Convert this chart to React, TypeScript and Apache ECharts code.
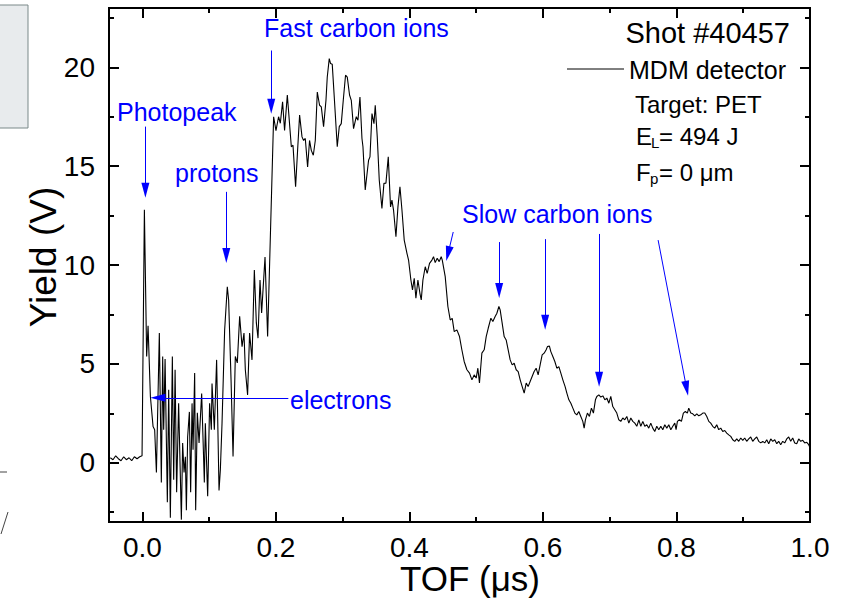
import { useEffect, useRef } from "react";
import * as echarts from "echarts";

const FONT = "'Liberation Sans', Arial, Helvetica, sans-serif";
const BLUE = "#0000ff";

// Axis ranges and tick positions
const xRange = [-0.05, 1.0];
const yRange = [-3, 23];
const xMajorTicks = [0, 0.2, 0.4, 0.6, 0.8, 1.0];
const xMinorTicks = [0.1, 0.3, 0.5, 0.7, 0.9];
const yMajorTicks = [0, 5, 10, 15, 20];
const yMinorTicks = [-2.5, 2.5, 7.5, 12.5, 17.5, 22.5];

// MDM detector trace, TOF (µs) vs yield (V)
const preTrigger = [
  [-0.048, 0.25], [-0.044, 0.15], [-0.04, 0.35], [-0.036, 0.2], [-0.032, 0.1],
  [-0.028, 0.3], [-0.024, 0.15], [-0.02, 0.25], [-0.016, 0.1], [-0.012, 0.3],
  [-0.008, 0.2], [-0.004, 0.3], [-0.0005, 0.35],
];

const photopeakAndElectrons = [
  [0.003, 12.8], [0.0064, 5.37], [0.0085, 6.92], [0.012, 3.35], [0.016, 1.83],
  [0.0184, 1.67], [0.021, -0.5], [0.0254, 6.56], [0.0284, -1.0], [0.0304, 5.37],
  [0.0319, 1.67], [0.034, 5.25], [0.0374, -2.0], [0.0394, 3.69], [0.0419, -2.78],
  [0.0449, 5.37], [0.0469, -0.86], [0.049, 4.7], [0.0513, -1.5], [0.0543, 3.0],
  [0.0584, -2.88], [0.0603, 1.0], [0.0624, -0.5], [0.0644, 0.3], [0.0659, -2.4],
  [0.0678, 1.3], [0.0704, 2.57], [0.0723, -1.5], [0.0744, 3.0], [0.0759, 0.66],
  [0.0783, 4.54], [0.0798, -2.4], [0.0823, 2.52], [0.0849, 1.0], [0.0888, 3.5],
  [0.0928, -1.0], [0.0943, 2.0], [0.0978, -1.7], [0.1007, 3.0], [0.1033, 1.67],
  [0.1043, 4.0], [0.1078, 1.67], [0.1112, 5.2], [0.1148, -1.4], [0.1168, -0.35],
  [0.1193, 2.0], [0.1232, 6.7], [0.1272, 8.9], [0.1292, 8.23], [0.1328, 4.2],
  [0.1358, 0.32], [0.1392, 5.37], [0.1422, 5.05], [0.1457, 7.4], [0.1493, 5.87],
  [0.1522, 6.56], [0.1542, 4.7], [0.1576, 3.43], [0.1606, 6.56], [0.1642, 5.2],
  [0.1677, 9.75], [0.1707, 7.07], [0.1732, 6.3], [0.1762, 9.24], [0.1786, 7.57],
  [0.1837, 10.4], [0.1876, 6.38],
];

const fastCarbon = [
  [0.1966, 17.5], [0.2001, 16.8], [0.204, 17.5], [0.2066, 17.17], [0.21, 18.25],
  [0.213, 16.8], [0.2171, 18.6], [0.2231, 15.98], [0.2256, 16.06], [0.2295, 13.96],
  [0.2325, 15.8], [0.2355, 17.58], [0.2391, 16.48], [0.2415, 16.3], [0.244, 16.4],
  [0.2475, 14.96], [0.2504, 16.3], [0.253, 15.8], [0.256, 15.55], [0.259, 16.3],
  [0.262, 18.75], [0.2654, 18.08], [0.268, 18.0], [0.2714, 17.0], [0.275, 18.33],
  [0.2769, 19.5], [0.2799, 20.44], [0.2819, 20.19], [0.2844, 20.15], [0.2874, 18.5],
  [0.2919, 15.98], [0.2949, 17.0], [0.2979, 17.15], [0.3009, 18.33], [0.3043, 19.6],
  [0.3069, 19.5], [0.3103, 18.6], [0.3129, 18.33], [0.3163, 16.9], [0.3204, 17.5],
  [0.3229, 17.32], [0.3259, 18.5], [0.3289, 16.4], [0.3304, 15.98], [0.3338, 13.8],
  [0.3388, 15.3], [0.3409, 15.47], [0.3439, 17.66], [0.3469, 17.15], [0.3488, 18.08],
  [0.3518, 16.48], [0.3548, 14.3], [0.3588, 12.86], [0.3618, 14.13], [0.3648, 14.14],
  [0.3683, 15.47], [0.3717, 12.94], [0.3738, 13.28], [0.3762, 12.78], [0.3798, 11.43],
  [0.3828, 12.94], [0.3858, 13.96], [0.3888, 12.78], [0.3922, 11.26], [0.3963, 10.59],
  [0.3987, 10.25], [0.4022, 9.24], [0.4046, 8.74], [0.4072, 9.33], [0.4097, 8.32],
  [0.4127, 9.24], [0.4157, 8.57], [0.4177, 8.23], [0.4202, 9.24], [0.4237, 9.91],
  [0.4266, 9.58], [0.4301, 10.08], [0.4337, 10.25], [0.4361, 10.42], [0.4386, 10.12],
  [0.4416, 10.34], [0.4446, 10.17], [0.4476, 10.42], [0.4492, 10.25], [0.4536, 9.41],
  [0.4576, 7.9],
];

const slowCarbon = [
  [0.4611, 7.22], [0.4641, 7.3], [0.4671, 6.63], [0.4711, 6.72], [0.475, 6.38],
  [0.4786, 5.7], [0.482, 5.12], [0.4861, 4.7], [0.49, 4.53], [0.4936, 4.19],
  [0.497, 4.44], [0.5, 4.28], [0.5025, 4.78], [0.5049, 4.03], [0.5085, 5.54],
  [0.512, 5.71], [0.515, 6.38], [0.518, 6.8], [0.522, 7.31], [0.525, 7.14],
  [0.5284, 7.39], [0.531, 7.56], [0.534, 7.9], [0.5359, 7.73], [0.5389, 7.06],
  [0.5419, 6.38], [0.5449, 6.21], [0.5479, 5.71], [0.5509, 5.2], [0.5539, 4.95],
  [0.5569, 5.03], [0.5599, 4.7], [0.5629, 4.61], [0.5659, 4.19], [0.5689, 3.85],
  [0.5719, 3.52], [0.5749, 4.03], [0.5778, 3.85], [0.5808, 4.11], [0.5838, 4.36],
  [0.5868, 4.61], [0.5898, 4.78], [0.5928, 4.44], [0.5958, 4.95], [0.5988, 5.45],
  [0.6018, 5.54], [0.6048, 5.71], [0.6067, 5.87], [0.6097, 5.9], [0.6118, 5.62],
  [0.6148, 5.37], [0.6178, 5.12], [0.6208, 4.78], [0.6238, 4.86], [0.6268, 4.53],
  [0.6298, 4.19], [0.6332, 3.85], [0.6358, 3.52], [0.6388, 3.18], [0.6418, 3.01],
  [0.6448, 2.76], [0.6478, 2.51], [0.6507, 2.42], [0.6537, 2.59], [0.6567, 2.34],
  [0.6597, 2.09], [0.6617, 1.75], [0.6636, 2.17], [0.6666, 2.51], [0.6696, 2.34],
  [0.6726, 2.76], [0.6756, 2.51], [0.6786, 3.18], [0.6807, 3.35], [0.6837, 3.43],
  [0.6867, 3.32], [0.6897, 3.38], [0.6927, 3.18], [0.6957, 3.27], [0.6987, 3.01],
  [0.7016, 3.35], [0.7046, 2.84], [0.7076, 2.68], [0.7106, 2.51], [0.7136, 2.17],
];

const tailRegion = [
  [0.7166, 2.09], [0.7196, 2.26], [0.7226, 2.17], [0.7256, 2.34], [0.7286, 2.0],
  [0.7316, 2.26], [0.7346, 2.09], [0.7376, 2.0], [0.7406, 1.84], [0.7436, 2.17],
  [0.7466, 1.84], [0.7496, 2.09], [0.7525, 1.84], [0.7555, 1.92], [0.7585, 1.75],
  [0.7615, 2.0], [0.7645, 1.75], [0.7675, 1.58], [0.7705, 1.84], [0.7735, 1.67],
  [0.7765, 1.84], [0.7795, 1.67], [0.7825, 1.92], [0.7855, 1.75], [0.7885, 1.92],
  [0.7915, 1.67], [0.7945, 1.84], [0.7975, 2.0], [0.7994, 1.67], [0.8014, 2.09],
  [0.8044, 2.17], [0.8074, 2.09], [0.8103, 2.51], [0.8133, 2.59], [0.8163, 2.51],
  [0.8184, 2.76], [0.8214, 2.51], [0.8244, 2.47], [0.8274, 2.37], [0.8304, 2.47],
  [0.8334, 2.37], [0.8364, 2.42], [0.8394, 2.51], [0.8424, 2.51], [0.8454, 2.34],
  [0.8484, 2.09], [0.8513, 2.0], [0.8543, 1.84], [0.8573, 1.75], [0.8603, 1.92],
  [0.8633, 1.67], [0.8663, 1.75], [0.8693, 1.58], [0.8723, 1.63], [0.8753, 1.5],
  [0.8783, 1.41], [0.8813, 1.33], [0.8843, 1.16], [0.8873, 1.08], [0.8903, 1.2],
  [0.8933, 1.08], [0.8963, 1.25], [0.8993, 1.13], [0.9022, 1.25], [0.9052, 1.08],
  [0.9082, 1.2], [0.9112, 1.3], [0.9142, 1.08], [0.9172, 1.2], [0.9202, 1.3],
  [0.9232, 1.08], [0.9262, 1.0], [0.9292, 1.08], [0.9322, 1.0], [0.9352, 1.16],
  [0.9382, 0.96], [0.9412, 1.2], [0.9442, 1.08], [0.9472, 1.16], [0.9502, 0.96],
  [0.9531, 1.08], [0.9561, 0.91], [0.9591, 1.08], [0.9621, 1.0], [0.9651, 1.2],
  [0.9681, 1.3], [0.9711, 1.08], [0.9741, 1.25], [0.9771, 1.0], [0.9801, 0.96],
  [0.9831, 1.2], [0.9861, 1.08], [0.9891, 1.13], [0.9921, 1.0], [0.9951, 1.03],
  [0.9981, 0.91], [1.0, 0.76],
];

// Annotation arrows in data coordinates: [tailX, tailY, headX, headY]
const annotationArrows = [
  [0.0045, 17.0, 0.0045, 13.78],   // Photopeak
  [0.1257, 13.7, 0.1257, 10.48],   // protons
  [0.193, 20.85, 0.193, 18.03],    // Fast carbon ions
  [0.2186, 3.28, 0.0232, 3.28],    // electrons
  [0.4656, 11.67, 0.4578, 10.57],  // slow carbon ions
  [0.5344, 11.16, 0.5344, 8.71],
  [0.6033, 11.31, 0.6033, 7.1],
  [0.6841, 11.57, 0.6841, 4.22],
  [0.7725, 11.26, 0.8152, 3.76],
];

const trace = [
  ...preTrigger,
  ...photopeakAndElectrons,
  ...fastCarbon,
  ...slowCarbon,
  ...tailRegion,
];

type Side = "bottom" | "top" | "left" | "right";

function frameAxis(position: Side, ticks: number[], len: number, withLabels: boolean) {
  const isX = position === "bottom" || position === "top";
  const range = isX ? xRange : yRange;
  return {
    type: "value",
    position,
    min: range[0],
    max: range[1],
    gridIndex: 0,
    axisLine: { show: true, onZero: false, lineStyle: { color: "#000", width: 2 } },
    axisTick: {
      show: true,
      inside: true,
      length: len,
      customValues: ticks,
      lineStyle: { color: "#000", width: 2 },
    },
    axisLabel: withLabels
      ? {
          show: true,
          customValues: ticks,
          color: "#000",
          fontFamily: FONT,
          fontSize: 28,
          margin: isX ? 11 : 14,
          formatter: (v: number) => (isX ? v.toFixed(1) : String(v)),
        }
      : { show: false },
    splitLine: { show: false },
  };
}

function label(text: string, x: number, y: number, size: number, color: string, align = "left") {
  return {
    type: "text",
    x,
    y,
    silent: true,
    style: {
      text,
      fontFamily: FONT,
      fontSize: size,
      fill: color,
      align,
      verticalAlign: "middle",
    },
  };
}

export default function App() {
  const ref = useRef<HTMLDivElement>(null);

  useEffect(() => {
    if (!ref.current) return;
    const chart = echarts.init(ref.current, undefined, { renderer: "svg" });

    chart.setOption({
      animation: false,
      backgroundColor: "#fff",
      grid: { left: 109, right: 41, top: 8, bottom: 81 },
      xAxis: [
        frameAxis("bottom", xMajorTicks, 10, true),
        frameAxis("bottom", xMinorTicks, 5, false),
        frameAxis("top", xMajorTicks, 10, false),
        frameAxis("top", xMinorTicks, 5, false),
      ],
      yAxis: [
        frameAxis("left", yMajorTicks, 10, true),
        frameAxis("left", yMinorTicks, 5, false),
        frameAxis("right", yMajorTicks, 10, false),
        frameAxis("right", yMinorTicks, 5, false),
      ],
      series: [
        {
          name: "MDM detector",
          type: "line",
          xAxisIndex: 0,
          yAxisIndex: 0,
          data: trace,
          showSymbol: false,
          silent: true,
          lineStyle: { color: "#000", width: 1.1 },
          markLine: {
            silent: true,
            symbol: ["none", "triangle"],
            label: { show: false },
            lineStyle: { color: BLUE, width: 1, type: "solid" },
            emphasis: { disabled: true },
            data: annotationArrows.map(([x1, y1, x2, y2]) => [
              { coord: [x1, y1], symbol: "none" },
              { coord: [x2, y2], symbol: "triangle", symbolSize: [8, 15] },
            ]),
          },
        },
      ],
      graphic: [
        // neighbouring panel fragments at the left edge
        {
          type: "rect",
          silent: true,
          shape: { x: -1, y: 5, width: 29, height: 123 },
          style: { fill: "#e8ebed", stroke: "#7b8989", lineWidth: 1 },
        },
        { type: "line", silent: true, shape: { x1: 0, y1: 472, x2: 7, y2: 472 }, style: { stroke: "#444", lineWidth: 1 } },
        { type: "line", silent: true, shape: { x1: 8, y1: 512, x2: 1, y2: 534 }, style: { stroke: "#444", lineWidth: 1 } },

        // axis titles
        label("TOF (μs)", 470, 578, 35, "#000", "center"),
        { ...label("Yield (V)", 43, 257, 37, "#000", "center"), rotation: Math.PI / 2 },

        // legend and shot information
        label("Shot #40457", 790, 33, 29, "#000", "right"),
        { type: "line", silent: true, shape: { x1: 567, y1: 69, x2: 624, y2: 69 }, style: { stroke: "#000", lineWidth: 1 } },
        label("MDM detector", 629, 70, 25, "#000"),
        label("Target: PET", 635, 104, 24, "#000"),
        label("E", 636, 136, 24, "#000"),
        label("L", 651, 142, 15, "#000"),
        label("= 494 J", 659, 136, 24, "#000"),
        label("F", 636, 172, 24, "#000"),
        label("p", 650, 178, 15, "#000"),
        label("= 0 μm", 659, 172, 24, "#000"),

        // peak annotations
        label("Fast carbon ions", 264, 28, 25, BLUE),
        label("Photopeak", 117, 112, 25, BLUE),
        label("protons", 175, 173, 25, BLUE),
        label("Slow carbon ions", 462, 214, 25, BLUE),
        label("electrons", 290, 400, 25, BLUE),
      ],
    });

    return () => chart.dispose();
  }, []);

  return (
    <div
      ref={ref}
      style={{ position: "absolute", left: 0, top: 0, width: 851, height: 603, background: "#fff" }}
    />
  );
}
